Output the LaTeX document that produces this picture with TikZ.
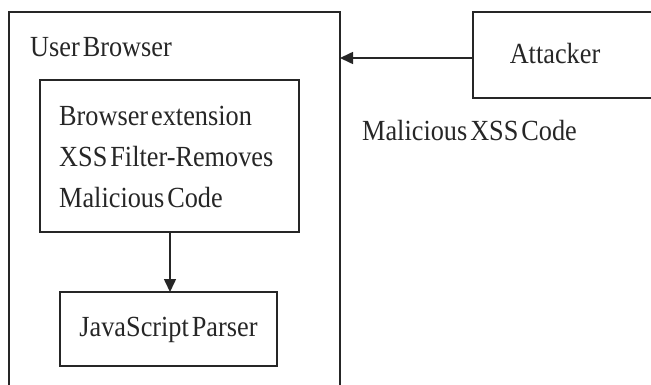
\documentclass[tikz,border=0pt]{standalone}
\usepackage{fontspec}
\setmainfont[FakeStretch=0.9,WordSpace=0.45]{Liberation Serif}
\usetikzlibrary{arrows.meta}
\tikzset{
  frame/.style={draw=black!85, line width=1.8pt, inner sep=0pt},
  label/.style={font=\fontsize{29.2}{41}\selectfont, text=black!85, inner sep=0pt},
  flow/.style={draw=black!85, line width=1.6pt, -{Triangle[length=13pt,width=12pt]}}
}
\begin{document}
\begin{tikzpicture}[x=1pt,y=-1pt]
\useasboundingbox (0,0) rectangle (651,385);
% browser frame, running past the lower edge
\draw[frame] (9,12) rectangle (340,410);
\coordinate (inlet) at (340,58);
\node[label, anchor=west] (ub) at (30,47) {User Browser};
% filter extension
\draw[frame] (40,80) rectangle (299,232);
\coordinate (extbot) at (170,232);
\node[label, anchor=north west, align=left] (ext) at (59,106)
  {Browser extension\\XSS Filter-Removes\\Malicious Code};
% parser
\draw[frame] (60,292) rectangle (277,366);
\coordinate (partop) at (170,292);
\node[label] (par) at (168.5,330) {JavaScript Parser};
% attacker box, running past the right edge
\draw[frame] (473,12) rectangle (680,98);
\coordinate (attleft) at (473,58);
\node[label] (att) at (555,54) {Attacker};
\node[label, anchor=west] (mal) at (362,131) {Malicious XSS Code};
% connectors
\draw[flow] (attleft) -- (inlet);
\draw[flow] (extbot) -- (partop);
\end{tikzpicture}
\end{document}
